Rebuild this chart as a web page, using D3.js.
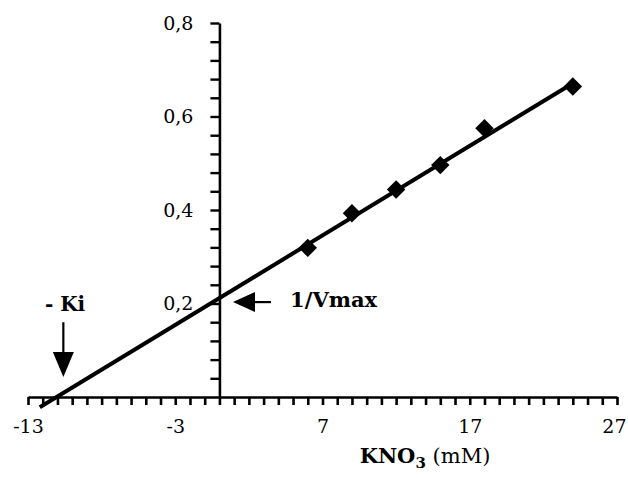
<!DOCTYPE html>
<html>
<head>
<meta charset="utf-8">
<script src="https://cdn.jsdelivr.net/npm/d3@7"></script>
<style>
  html, body { margin: 0; padding: 0; background: #fff; }
  svg { display: block; }
  text { font-family: "DejaVu Serif", "Liberation Serif", serif; fill: #000; }
</style>
</head>
<body>
<svg id="chart" width="628" height="478"></svg>
<script>
// ---- data ----
const kno3 = [6, 9, 12, 15, 18, 24];                       // mM
const invV = [0.319, 0.393, 0.444, 0.496, 0.575, 0.664];    // 1/V
const fitX = [-12.2, 24.2];                                 // regression line ends
const fitY = [-0.022, 0.675];
const xTickLabels = [-13, -3, 7, 17, 27];
const yTickLabels = [0.2, 0.4, 0.6, 0.8];
const xDomain = [-13, 27];
const yDomain = [0, 0.8];
const xMinorStep = 1;
const yMinorStep = 0.04;
// annotation anchors (data units)
const kiLabel = { text: "- Ki", x: -11.85, y: 0.184 };
const kiArrow = { x: -10.6, y0: 0.16, y1: 0.043 };
const vmaxLabel = { text: "1/Vmax", x: 4.8, y: 0.193 };
const vmaxArrow = { y: 0.203, x0: 3.5, x1: 0.92 };

// ---- layout ----
const svg = d3.select("#chart");
const x = d3.scaleLinear().domain(xDomain).range([28, 617]);
const y = d3.scaleLinear().domain(yDomain).range([397, 23]);
const comma = d3.formatLocale({ decimal: ",", thousands: ".", grouping: [3], currency: ["", ""] }).format(".1f");

// x axis
const xTicks = d3.range(xDomain[0], xDomain[1] + 0.001, xMinorStep);
const xAxis = d3.axisBottom(x).tickValues(xTicks).tickSizeInner(8).tickSizeOuter(0).tickPadding(15)
  .tickFormat(d => xTickLabels.includes(d) ? String(d) : "");
const gx = svg.append("g").attr("transform", `translate(0,${y(0)})`).call(xAxis);
gx.select(".domain").attr("stroke", "#000").attr("stroke-width", 2.6);
gx.selectAll(".tick line").attr("stroke", "#000").attr("stroke-width", 2.6);
gx.selectAll(".tick text").attr("font-size", 19).attr("font-family", "DejaVu Serif").attr("fill", "#000")
  .attr("text-anchor", d => d === xDomain[1] ? "end" : "middle")
  .attr("dx", d => d === xDomain[1] ? 9 : 0);

// y axis
const yTicks = d3.range(1, Math.round(yDomain[1] / yMinorStep) + 1).map(i => +(i * yMinorStep).toFixed(2));
const yAxis = d3.axisLeft(y).tickValues(yTicks).tickSizeInner(9).tickSizeOuter(0).tickPadding(17)
  .tickFormat(d => yTickLabels.some(v => Math.abs(v - d) < 1e-6) ? comma(d) : "");
const gy = svg.append("g").attr("transform", `translate(${x(0)},0)`).call(yAxis);
gy.select(".domain").attr("stroke", "#000").attr("stroke-width", 2.6);
gy.selectAll(".tick line").attr("stroke", "#000").attr("stroke-width", 2.4);
gy.selectAll(".tick text").attr("font-size", 19).attr("font-family", "DejaVu Serif").attr("fill", "#000");

// regression line
const line = d3.line().x(d => x(d[0])).y(d => y(d[1]));
svg.append("path").datum(d3.zip(fitX, fitY)).attr("d", line)
  .attr("fill", "none").attr("stroke", "#000").attr("stroke-width", 4);

// data points (diamonds)
const sym = d3.symbol().type(d3.symbolSquare).size(170);
svg.append("g").selectAll("path").data(d3.zip(kno3, invV)).join("path")
  .attr("d", sym)
  .attr("transform", d => `translate(${x(d[0])},${y(d[1])}) rotate(45)`)
  .attr("fill", "#000");

// annotations
const ann = svg.append("g");
ann.append("text").attr("x", x(kiLabel.x)).attr("y", y(kiLabel.y))
  .attr("font-size", 20).attr("font-weight", "bold").text(kiLabel.text);
// Ki arrow (down)
{
  const ax = x(kiArrow.x), ay0 = y(kiArrow.y0), ay1 = y(kiArrow.y1);
  const headL = 25, headW = 21;
  ann.append("line").attr("x1", ax).attr("x2", ax).attr("y1", ay0).attr("y2", ay1 - headL + 1)
    .attr("stroke", "#000").attr("stroke-width", 2.2);
  ann.append("path").attr("d", `M${ax},${ay1}L${ax - headW / 2},${ay1 - headL}L${ax + headW / 2},${ay1 - headL}Z`)
    .attr("fill", "#000");
}
ann.append("text").attr("x", x(vmaxLabel.x)).attr("y", y(vmaxLabel.y))
  .attr("font-size", 21).attr("font-weight", "bold").text(vmaxLabel.text);
// 1/Vmax arrow (left)
{
  const ay = y(vmaxArrow.y), ax0 = x(vmaxArrow.x0), ax1 = x(vmaxArrow.x1);
  const headL = 22, headW = 20;
  ann.append("line").attr("x1", ax0).attr("x2", ax1 + headL - 1).attr("y1", ay).attr("y2", ay)
    .attr("stroke", "#000").attr("stroke-width", 2.2);
  ann.append("path").attr("d", `M${ax1},${ay}L${ax1 + headL},${ay - headW / 2}L${ax1 + headL},${ay + headW / 2}Z`)
    .attr("fill", "#000");
}

// x axis title: KNO3 (mM)
const xt = svg.append("text").attr("x", 425).attr("y", 463).attr("text-anchor", "middle").attr("font-size", 21);
xt.append("tspan").attr("font-weight", "bold").text("KNO");
xt.append("tspan").attr("font-weight", "bold").attr("font-size", 15).attr("dy", 5).text("3");
xt.append("tspan").attr("dy", -5).text(" (mM)");
</script>
</body>
</html>
